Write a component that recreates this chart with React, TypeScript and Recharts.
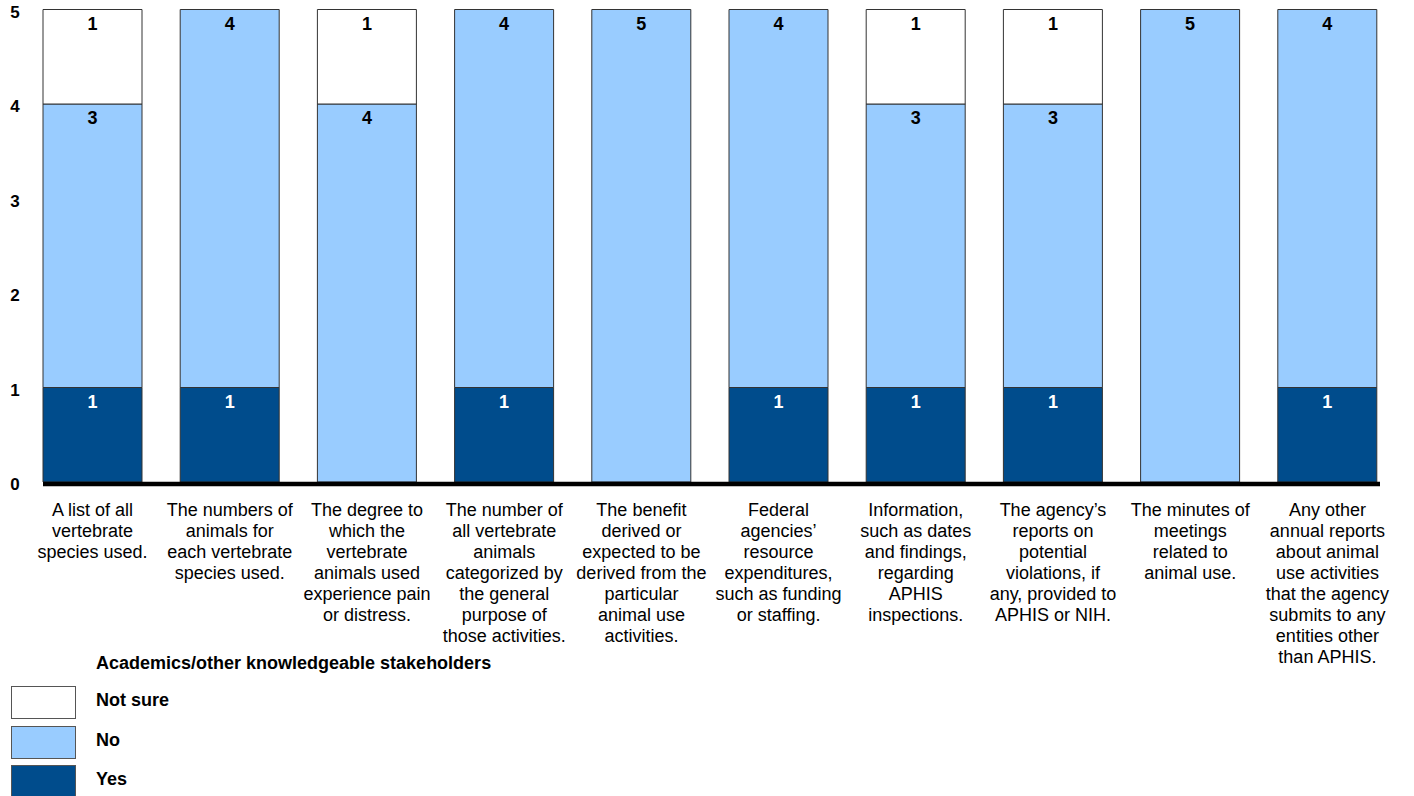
import React from "react";
import { BarChart, Bar, XAxis, YAxis, LabelList } from "recharts";

const categories: string[][] = [
  ["A list of all", "vertebrate", "species used."],
  ["The numbers of", "animals for", "each vertebrate", "species used."],
  ["The degree to", "which the", "vertebrate", "animals used", "experience pain", "or distress."],
  ["The number of", "all vertebrate", "animals", "categorized by", "the general", "purpose of", "those activities."],
  ["The benefit", "derived or", "expected to be", "derived from the", "particular", "animal use", "activities."],
  ["Federal", "agencies\u2019", "resource", "expenditures,", "such as funding", "or staffing."],
  ["Information,", "such as dates", "and findings,", "regarding", "APHIS", "inspections."],
  ["The agency\u2019s", "reports on", "potential", "violations, if", "any, provided to", "APHIS or NIH."],
  ["The minutes of", "meetings", "related to", "animal use."],
  ["Any other", "annual reports", "about animal", "use activities", "that the agency", "submits to any", "entities other", "than APHIS."],
];

const yes = [1, 1, 0, 1, 0, 1, 1, 1, 0, 1];
const no = [3, 4, 4, 4, 5, 4, 3, 3, 5, 4];
const notSure = [1, 0, 1, 0, 0, 0, 1, 1, 0, 0];

const yTicks = [0, 1, 2, 3, 4, 5];

const legendTitle = "Academics/other knowledgeable stakeholders";
const legendItems = [
  { name: "Not sure", color: "#ffffff" },
  { name: "No", color: "#99ccff" },
  { name: "Yes", color: "#004c8c" },
];

const data = categories.map((lines, i) => ({
  key: String(i),
  lines,
  yes: yes[i],
  no: no[i],
  notSure: notSure[i],
}));

const FONT = "'Liberation Sans', Arial, sans-serif";

const CategoryTick = (props: any) => {
  const { x, y, payload } = props;
  const lines: string[] = categories[Number(payload.value)] || [];
  return (
    <text x={x} y={y + 26} textAnchor="middle" fontFamily={FONT} fontSize={18} fill="#000">
      {lines.map((l, i) => (
        <tspan key={i} x={x} dy={i === 0 ? 0 : 21}>
          {l}
        </tspan>
      ))}
    </text>
  );
};

const ValueTick = (props: any) => {
  const { y, payload } = props;
  return (
    <text x={15} y={y + 8} textAnchor="middle" fontFamily={FONT} fontSize={17} fontWeight="bold" fill="#000">
      {payload.value}
    </text>
  );
};

const segmentLabel = (color: string) => (props: any) => {
  const { x, y, width, value } = props;
  if (!value) return null;
  return (
    <text
      x={x + width / 2}
      y={y + 20}
      textAnchor="middle"
      fontFamily={FONT}
      fontSize={18}
      fontWeight="bold"
      fill={color}
    >
      {value}
    </text>
  );
};

export default function App() {
  return (
    <div style={{ position: "absolute", left: 0, top: 0, width: 1414, height: 796, background: "#fff" }}>
      <BarChart
        width={1414}
        height={796}
        data={data}
        margin={{ top: 9.5, right: 34, bottom: 114, left: 8 }}
        barSize={99}
      >
        <XAxis
          dataKey="key"
          height={200}
          tickLine={false}
          interval={0}
          tick={<CategoryTick />}
          padding={{ left: -19, right: -16 }}
          axisLine={{ stroke: "#000", strokeWidth: 4.5, transform: "translate(0 2)" }}
        />
        <YAxis
          width={35}
          domain={[0, 5]}
          ticks={yTicks}
          axisLine={false}
          tickLine={false}
          tick={<ValueTick />}
        />
        <Bar dataKey="yes" stackId="a" fill="#004c8c" stroke="#333" strokeWidth={1} isAnimationActive={false}>
          <LabelList dataKey="yes" content={segmentLabel("#fff")} />
        </Bar>
        <Bar dataKey="no" stackId="a" fill="#99ccff" stroke="#333" strokeWidth={1} isAnimationActive={false}>
          <LabelList dataKey="no" content={segmentLabel("#000")} />
        </Bar>
        <Bar dataKey="notSure" stackId="a" fill="#ffffff" stroke="#333" strokeWidth={1} isAnimationActive={false}>
          <LabelList dataKey="notSure" content={segmentLabel("#000")} />
        </Bar>
      </BarChart>

      {/* legend */}
      <div
        style={{
          position: "absolute",
          left: 96,
          top: 652,
          fontFamily: FONT,
          fontSize: 18,
          fontWeight: "bold",
          lineHeight: "22px",
        }}
      >
        {legendTitle}
      </div>
      {legendItems.map((item, i) => (
        <React.Fragment key={item.name}>
          <div
            style={{
              position: "absolute",
              left: 11,
              top: 686 + i * 39.5,
              width: 63,
              height: 31,
              background: item.color,
              border: "1px solid #555",
            }}
          />
          <div
            style={{
              position: "absolute",
              left: 96,
              top: 689 + i * 39.5,
              fontFamily: FONT,
              fontSize: 18,
              fontWeight: "bold",
              lineHeight: "22px",
            }}
          >
            {item.name}
          </div>
        </React.Fragment>
      ))}
    </div>
  );
}
